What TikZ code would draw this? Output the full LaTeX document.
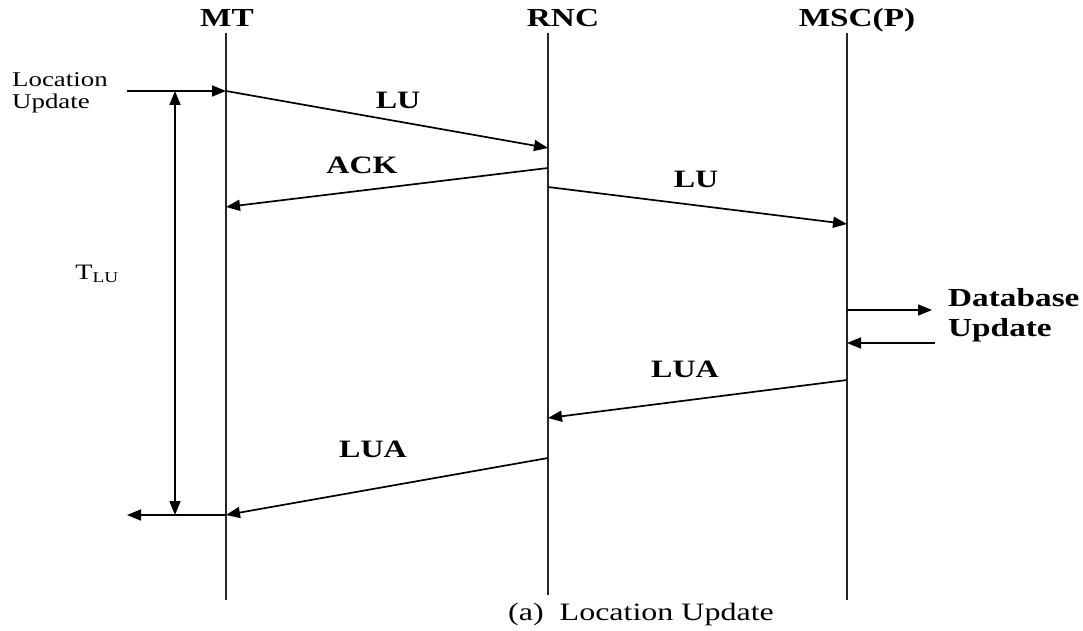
\documentclass[tikz,border=0pt]{standalone}
\usepackage{fontspec}
\setmainfont{Liberation Serif}[FakeStretch=1.28]
\usetikzlibrary{arrows.meta}
\begin{document}
\begin{tikzpicture}[x=1pt,y=-1pt,
  life/.style={draw=black!85,line width=1.5pt},
  tip/.style={-{Triangle[length=14pt,width=11pt]}},
  msg/.style={draw,line width=1.7pt,tip},
  head/.style={font=\fontsize{26}{26}\selectfont\bfseries,anchor=base},
  lbl/.style={font=\fontsize{25}{25}\selectfont\bfseries,anchor=base},
  plain/.style={font=\fontsize{21}{22}\selectfont}]
\useasboundingbox (0,0) rectangle (1083,631);
% lifelines
\coordinate (mt0) at (226,33); \coordinate (mt1) at (226,600);
\coordinate (rn0) at (548,33); \coordinate (rn1) at (548,595);
\coordinate (ms0) at (847,33); \coordinate (ms1) at (847,600);
\draw[life] (mt0) -- (mt1);
\draw[life] (rn0) -- (rn1);
\draw[life] (ms0) -- (ms1);
\node[head] (hmt) at (227,27) {MT};
\node[head] (hrn) at (563,27) {RNC};
\node[head] (hms) at (857,27) {MSC(P)};
% points
\coordinate (in0) at (127,91);
\coordinate (a1) at (226,91);
\coordinate (b1) at (548,148);
\coordinate (b2) at (548,168);
\coordinate (a2) at (226,207);
\coordinate (b3) at (548,187);
\coordinate (c1) at (847,224);
\coordinate (c2) at (847,310);
\coordinate (d1) at (932,310);
\coordinate (d2) at (935,343);
\coordinate (c3) at (847,343);
\coordinate (c4) at (847,380);
\coordinate (b4) at (548,418);
\coordinate (b5) at (548,458);
\coordinate (a3) at (226,515);
\coordinate (out0) at (127,515);
\coordinate (t0) at (175,91);
\coordinate (t1) at (175,515);
% messages
\draw[msg] (in0) -- (a1);
\draw[msg] (a1) -- (b1);
\draw[msg] (b2) -- (a2);
\draw[msg] (b3) -- (c1);
\draw[msg] (c2) -- (d1);
\draw[msg] (d2) -- (c3);
\draw[msg] (c4) -- (b4);
\draw[msg] (b5) -- (a3);
\draw[msg] (a3) -- (out0);
\draw[line width=1.7pt,{Triangle[length=14pt,width=11pt]}-{Triangle[length=14pt,width=11pt]}] (t0) -- (t1);
% labels
\node[lbl] (l1) at (398,109) {LU};
\node[lbl] (l2) at (362,174) {ACK};
\node[lbl] (l3) at (696,187) {LU};
\node[lbl] (l4) at (685,377) {LUA};
\node[lbl] (l5) at (373,457) {LUA};
\node[plain,align=left,anchor=base west,inner sep=0pt] (locu) at (12,109) {Location\\Update};
\node[font=\fontsize{26}{30}\selectfont\bfseries,align=left,anchor=base west,inner sep=0pt] (dbu) at (948,336) {Database\\Update};
\node[font=\fontsize{22}{22}\selectfont,anchor=base] (tlu) at (97,279) {T\textsubscript{\fontsize{15}{15}\selectfont LU}};
\node[font=\fontsize{25}{25}\selectfont,anchor=base] (cap) at (641,620) {(a)\ \ Location Update};
\end{tikzpicture}
\end{document}
